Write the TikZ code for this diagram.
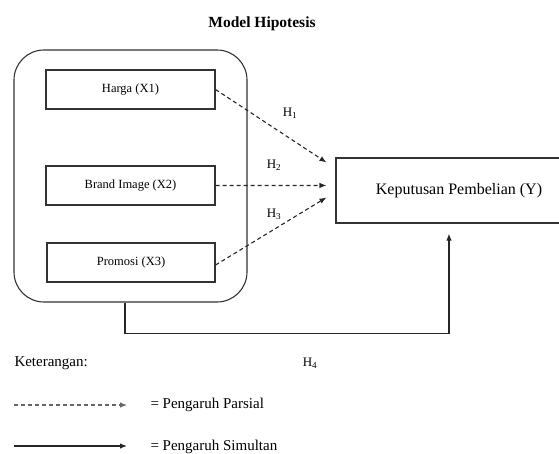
\documentclass[tikz,border=0pt]{standalone}
\usepackage{fontspec}
\setmainfont{Liberation Serif}
\usetikzlibrary{arrows.meta,calc}
\begin{document}
\begin{tikzpicture}[x=1pt,y=-1pt,
  line width=1pt,
  box/.style={draw=black!80, line width=1.1pt, minimum width=169pt, minimum height=39pt, inner sep=0pt, font=\fontsize{12.5}{14}\selectfont},
  tip/.style={-{Latex[length=7pt,width=5.5pt]}},
  dashedarrow/.style={tip, draw=black!85, dash pattern=on 4pt off 3pt, line width=1.1pt},
  solidarrow/.style={tip, draw=black!85, line width=1.2pt},
  hlab/.style={font=\fontsize{13}{15}\selectfont, inner sep=0pt},
  leg/.style={font=\fontsize{15}{17}\selectfont, anchor=west, inner sep=0pt}]
\useasboundingbox (0,0) rectangle (559,453);
\node[font=\bfseries\fontsize{15.5}{17}\selectfont] (title) at (262,24) {Model Hipotesis};
\node[draw=black!80, line width=1.1pt, rounded corners=30pt, minimum width=233pt, minimum height=252pt] (grp) at (130.5,176) {};
\node[box] (harga) at (130.5,89.5) {Harga (X1)};
\node[box] (brand) at (130.5,185.5) {Brand Image (X2)};
\node[box, minimum width=168pt] (promosi) at (131,262.5) {Promosi (X3)};
\node[draw=black!80, line width=1.1pt, minimum width=246pt, minimum height=65pt, inner sep=0pt, font=\fontsize{16}{18}\selectfont] (Y) at (459,190.5) {Keputusan Pembelian (Y)};
\draw[dashedarrow] (harga.east) -- ($(Y.north west)+(-9,5)$);
\draw[dashedarrow] (brand.east) -- ($(Y.north west)+(-9,28)$);
\draw[dashedarrow] ([yshift=-2.5pt]promosi.east) -- ($(Y.north west)+(-9,40)$);
\draw[solidarrow] ([xshift=-5.5pt]grp.south) -- ++(0,31) -| ([xshift=-10pt,yshift=-10pt]Y.south);
\node[hlab] (h1) at (290,113) {H\textsubscript{1}};
\node[hlab] (h2) at (274,165) {H\textsubscript{2}};
\node[hlab] (h3) at (274,214) {H\textsubscript{3}};
\node[hlab] (h4) at (310,363) {H\textsubscript{4}};
\node[leg] (ket) at (14,363) {Keterangan:};
\coordinate (la) at (14,405);
\coordinate (lb) at (127,405);
\coordinate (lc) at (14,446);
\coordinate (ld) at (127,446);
\draw[dashedarrow, draw=black!60] (la) -- (lb);
\draw[solidarrow] (lc) -- (ld);
\node[leg] (parsial) at (150,405) {= Pengaruh Parsial};
\node[leg] (simultan) at (150,447) {= Pengaruh Simultan};
\end{tikzpicture}
\end{document}
